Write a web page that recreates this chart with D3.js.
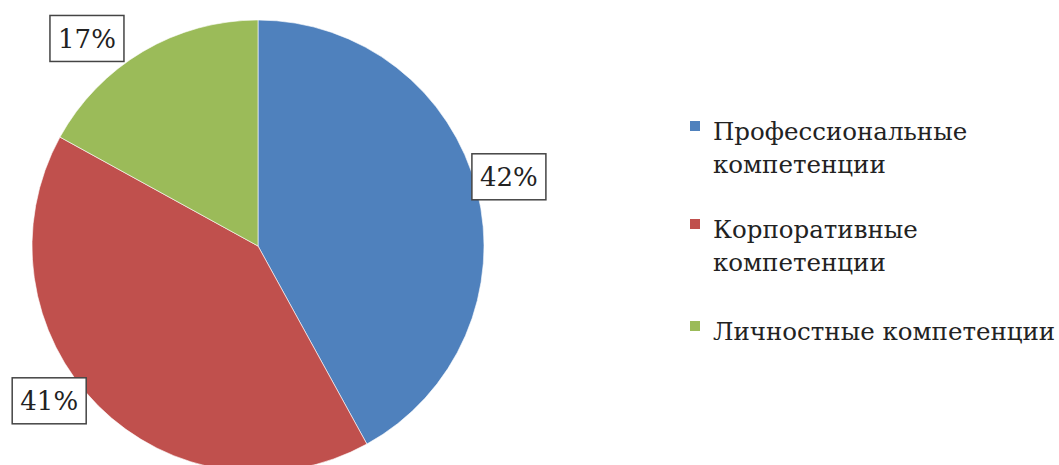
<!DOCTYPE html>
<meta charset="utf-8">
<style>
body { margin: 0; background: #fff; }
</style>
<body>
<script src="https://d3js.org/d3.v7.min.js"></script>
<script>

// chart data
var categories = ["Профессиональные компетенции", "Корпоративные компетенции", "Личностные компетенции"];
var legendLines = [["Профессиональные", "компетенции"], ["Корпоративные", "компетенции"], ["Личностные компетенции"]];
var shares = [42, 41, 17];
var colors = ["#4f81bd", "#c0504d", "#9bbb59"];

var width = 1059, height = 465;
var cx = 258, cy = 246, radius = 226;
var serif = "'DejaVu Serif', serif";

// label nudges from the outer edge of each slice (px)
var labelShift = [[32, -13], [-49, -5], [-56, -13]];

var svg = d3.select("body").append("svg")
    .attr("width", width)
    .attr("height", height);

var pie = d3.pie().sort(null).value(function(d) { return d; });
var arc = d3.arc().innerRadius(0).outerRadius(radius);
var edge = d3.arc().innerRadius(radius).outerRadius(radius);

var arcs = pie(shares);

var g = svg.append("g")
    .attr("transform", "translate(" + cx + "," + cy + ")");

g.selectAll("path")
    .data(arcs)
  .enter().append("path")
    .attr("d", arc)
    .attr("fill", function(d, i) { return colors[i]; })
    .attr("stroke", "#fff")
    .attr("stroke-width", 1)
    .attr("stroke-opacity", 0.6);

// data labels in boxes
var labels = g.selectAll(".lbl")
    .data(arcs)
  .enter().append("g")
    .attr("class", "lbl")
    .attr("transform", function(d, i) {
      var c = edge.centroid(d);
      return "translate(" + (c[0] + labelShift[i][0]) + "," + (c[1] + labelShift[i][1]) + ")";
    });

labels.append("rect")
    .attr("x", -37)
    .attr("y", -23)
    .attr("width", 74)
    .attr("height", 46)
    .attr("fill", "#fff")
    .attr("stroke", "#444")
    .attr("stroke-width", 1.5);

labels.append("text")
    .attr("text-anchor", "middle")
    .attr("dy", "0.35em")
    .style("font-family", serif)
    .style("font-size", "26px")
    .style("fill", "#222")
    .text(function(d) { return d.data + "%"; });

// legend
var legendY = [140, 238, 340];
var legend = svg.selectAll(".legend")
    .data(categories)
  .enter().append("g")
    .attr("class", "legend")
    .attr("transform", function(d, i) { return "translate(690," + legendY[i] + ")"; });

legend.append("rect")
    .attr("x", 0)
    .attr("y", -19)
    .attr("width", 10)
    .attr("height", 10)
    .attr("fill", function(d, i) { return colors[i]; });

legend.append("text")
    .attr("x", 23)
    .style("font-family", serif)
    .style("font-size", "24.5px")
    .style("fill", "#222")
    .selectAll("tspan")
    .data(function(d, i) { return legendLines[i]; })
  .enter().append("tspan")
    .attr("x", 23)
    .attr("dy", function(d, j) { return j === 0 ? 0 : 33; })
    .text(function(d) { return d; });

</script>
</body>
